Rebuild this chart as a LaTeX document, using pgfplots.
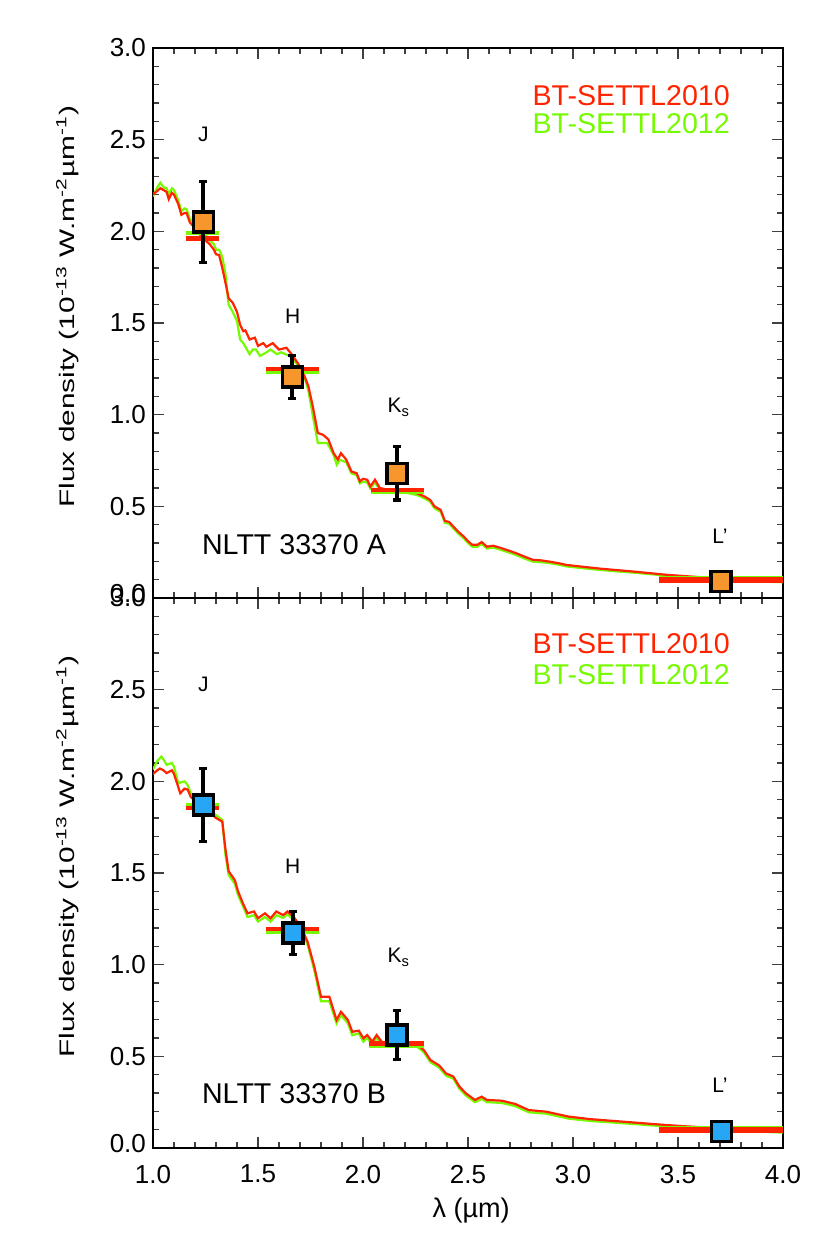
\documentclass[border=0pt]{standalone}
\usepackage{fontspec}
\setmainfont{Liberation Sans}
\usepackage{pgfplots}
\usepackage{pgfplotstable}
\pgfplotsset{compat=1.18}

\definecolor{setred}{RGB}{255,35,0}
\definecolor{setgreen}{RGB}{118,250,0}
\definecolor{ptorange}{RGB}{247,150,45}
\definecolor{ptblue}{RGB}{38,166,245}

% model spectra, panel A
\pgfplotstableread{
x y
1.00 2.20
1.02 2.22
1.035 2.235
1.05 2.225
1.065 2.215
1.075 2.175
1.09 2.21
1.10 2.20
1.12 2.15
1.135 2.09
1.15 2.10
1.16 2.10
1.175 2.05
1.19 2.03
1.21 2.00
1.25 1.95
1.27 1.93
1.29 1.90
1.30 1.875
1.315 1.87
1.33 1.80
1.345 1.72
1.36 1.635
1.38 1.61
1.40 1.56
1.415 1.49
1.43 1.455
1.44 1.46
1.46 1.41
1.485 1.42
1.50 1.375
1.525 1.39
1.54 1.37
1.57 1.39
1.60 1.355
1.635 1.365
1.66 1.33
1.69 1.28
1.71 1.24
1.725 1.20
1.74 1.155
1.76 1.05
1.785 0.90
1.81 0.89
1.835 0.865
1.86 0.79
1.88 0.755
1.895 0.79
1.92 0.755
1.945 0.69
1.97 0.68
1.985 0.636
2.00 0.65
2.02 0.645
2.035 0.608
2.057 0.645
2.08 0.60
2.12 0.59
2.16 0.585
2.20 0.585
2.225 0.58
2.26 0.57
2.29 0.555
2.32 0.535
2.34 0.50
2.37 0.48
2.39 0.42
2.41 0.415
2.43 0.39
2.455 0.36
2.48 0.335
2.50 0.31
2.52 0.29
2.545 0.29
2.565 0.305
2.59 0.28
2.62 0.285
2.65 0.275
2.69 0.26
2.73 0.244
2.77 0.225
2.81 0.208
2.85 0.205
2.89 0.198
2.93 0.19
2.97 0.18
3.05 0.17
3.13 0.16
3.21 0.152
3.29 0.144
3.37 0.135
3.45 0.126
3.55 0.118
3.65 0.11
3.75 0.103
3.85 0.097
3.95 0.092
4.00 0.09
}\redA

\pgfplotstableread{
x y
1.00 2.19
1.02 2.24
1.035 2.265
1.05 2.24
1.065 2.235
1.075 2.20
1.09 2.235
1.10 2.225
1.12 2.17
1.135 2.11
1.15 2.125
1.16 2.12
1.175 2.07
1.19 2.05
1.21 2.02
1.25 1.98
1.27 1.95
1.29 1.93
1.30 1.90
1.315 1.90
1.33 1.86
1.345 1.77
1.36 1.60
1.38 1.56
1.40 1.51
1.415 1.41
1.43 1.39
1.44 1.37
1.46 1.33
1.475 1.355
1.49 1.355
1.51 1.32
1.54 1.34
1.56 1.355
1.59 1.33
1.61 1.34
1.65 1.32
1.69 1.27
1.71 1.23
1.725 1.19
1.74 1.13
1.76 1.00
1.785 0.845
1.81 0.845
1.83 0.845
1.86 0.78
1.875 0.727
1.89 0.754
1.92 0.74
1.945 0.68
1.97 0.67
1.985 0.625
2.00 0.635
2.02 0.63
2.035 0.598
2.057 0.63
2.08 0.59
2.12 0.58
2.16 0.575
2.20 0.575
2.225 0.57
2.26 0.56
2.29 0.545
2.32 0.525
2.34 0.49
2.37 0.47
2.39 0.41
2.41 0.405
2.43 0.38
2.455 0.35
2.48 0.325
2.50 0.30
2.52 0.28
2.545 0.28
2.565 0.295
2.59 0.27
2.62 0.275
2.65 0.265
2.69 0.25
2.73 0.234
2.77 0.215
2.81 0.198
2.85 0.195
2.89 0.19
2.93 0.182
2.97 0.172
3.05 0.162
3.13 0.153
3.21 0.145
3.29 0.138
3.37 0.13
3.45 0.121
3.55 0.113
3.65 0.106
3.75 0.099
3.85 0.093
3.95 0.088
4.00 0.086
}\greenA

% model spectra, panel B
\pgfplotstableread{
x y
1.00 2.04
1.02 2.06
1.033 2.07
1.05 2.06
1.065 2.045
1.09 2.06
1.10 2.04
1.13 1.935
1.15 1.96
1.165 1.955
1.18 1.915
1.21 1.88
1.25 1.85
1.28 1.82
1.30 1.80
1.33 1.78
1.345 1.63
1.36 1.51
1.39 1.46
1.405 1.40
1.428 1.335
1.45 1.28
1.481 1.29
1.50 1.253
1.533 1.28
1.56 1.253
1.587 1.29
1.62 1.27
1.64 1.29
1.67 1.26
1.704 1.207
1.736 1.125
1.768 0.99
1.80 0.825
1.84 0.825
1.874 0.698
1.895 0.743
1.928 0.698
1.949 0.634
1.98 0.64
2.002 0.598
2.02 0.616
2.044 0.58
2.065 0.616
2.096 0.57
2.15 0.565
2.20 0.565
2.257 0.565
2.289 0.535
2.321 0.48
2.363 0.45
2.395 0.407
2.43 0.39
2.459 0.335
2.49 0.298
2.533 0.262
2.565 0.28
2.59 0.262
2.661 0.258
2.725 0.24
2.789 0.207
2.873 0.198
2.98 0.171
3.086 0.157
3.20 0.147
3.30 0.138
3.40 0.129
3.51 0.12
3.62 0.113
3.724 0.107
3.85 0.097
4.00 0.089
}\redB

\pgfplotstableread{
x y
1.00 2.065
1.02 2.11
1.04 2.135
1.055 2.11
1.065 2.09
1.09 2.10
1.10 2.08
1.12 1.99
1.15 2.00
1.165 1.98
1.18 1.935
1.21 1.90
1.25 1.87
1.28 1.835
1.30 1.815
1.33 1.79
1.345 1.60
1.36 1.49
1.39 1.44
1.405 1.38
1.428 1.32
1.45 1.26
1.481 1.27
1.50 1.235
1.533 1.26
1.56 1.235
1.587 1.27
1.62 1.255
1.64 1.275
1.67 1.245
1.704 1.19
1.736 1.11
1.768 0.97
1.80 0.80
1.84 0.80
1.874 0.68
1.895 0.725
1.928 0.68
1.949 0.615
1.98 0.625
2.002 0.58
2.02 0.60
2.044 0.565
2.065 0.60
2.096 0.555
2.15 0.553
2.20 0.553
2.257 0.553
2.289 0.523
2.321 0.468
2.363 0.438
2.395 0.395
2.43 0.378
2.459 0.323
2.49 0.286
2.533 0.25
2.565 0.268
2.59 0.25
2.661 0.246
2.725 0.228
2.789 0.195
2.873 0.187
2.98 0.16
3.086 0.147
3.20 0.138
3.30 0.13
3.40 0.121
3.51 0.113
3.62 0.106
3.724 0.1
3.85 0.091
4.00 0.084
}\greenB

% photometry: x, flux, error
\pgfplotstableread{
x y e
1.24 2.05 0.22
1.664 1.205 0.118
2.163 0.68 0.145
3.705 0.09 0
}\ptsA

\pgfplotstableread{
x y e
1.24 1.87 0.198
1.666 1.172 0.116
2.161 0.617 0.135
3.707 0.09 0
}\ptsB

\pgfplotsset{
  sedpanel/.style={
    scale only axis,
    width=315pt, height=275pt,
    xmin=1, xmax=4, ymin=0, ymax=3,
    xtick={1,1.5,2,2.5,3,3.5,4},
    ytick={0,0.5,1,1.5,2,2.5,3},
    yticklabels={\raisebox{5pt}{0.0},0.5,1.0,1.5,2.0,2.5,3.0},
    minor x tick num=4, minor y tick num=4,
    tick align=inside,
    major tick length=5.5pt, minor tick length=3pt,
    tick style={black!75, line width=0.6pt},
    axis line style={line width=0.6pt},
    tick label style={font=\fontsize{13}{15}\selectfont},
    xticklabel style={yshift=-5pt},
    every axis y label/.style={at={(axis description cs:-0.136,0.53)}, rotate=90, anchor=center},
    every axis x label/.style={at={(axis description cs:0.505,-0.113)}, anchor=center},
    ylabel style={font=\fontsize{10.5}{12}\selectfont},
    xlabel style={font=\fontsize{13.5}{15}\selectfont},
    ylabel={\scalebox{1.42}[1]{Flux density (10\textsuperscript{-13} W.m\textsuperscript{-2}µm\textsuperscript{-1})}},
  },
  specline/.style={line width=1.1pt, no marks},
  errs/.style={only marks, mark=none, forget plot,
    error bars/.cd, y dir=both, y explicit,
    error bar style={black, line width=2pt},
    error mark=-,
    error mark options={black, line width=1.6pt, mark size=2pt, rotate=90}},
}

\newcommand{\bandfont}{\fontsize{10.5}{12}\selectfont}
\newcommand{\bigfont}{\fontsize{14.3}{16}\selectfont}

\begin{document}
\begin{tikzpicture}
\useasboundingbox (-76.5pt,-49pt) rectangle (338.5pt,574pt);

% upper panel: component A
\begin{axis}[sedpanel, at={(0,275pt)}, anchor=south west, xticklabels={}]
\addplot[specline, setgreen] table[x=x,y=y]{\greenA};
\addplot[specline, setred] table[x=x,y=y]{\redA};
\addplot[setgreen, line width=2.2pt] coordinates {(1.157,1.99) (1.314,1.99)};
\addplot[setred, line width=2.2pt] coordinates {(1.157,1.96) (1.314,1.96)};
\addplot[setgreen, line width=2.2pt] coordinates {(1.54,1.235) (1.79,1.235)};
\addplot[setred, line width=2.2pt] coordinates {(1.54,1.25) (1.79,1.25)};
\addplot[setgreen, line width=2.2pt] coordinates {(2.04,0.58) (2.29,0.58)};
\addplot[setred, line width=2.2pt] coordinates {(2.04,0.59) (2.29,0.59)};
\addplot[setgreen, line width=2.6pt] coordinates {(3.41,0.105) (4.0,0.105)};
\addplot[setred, line width=3pt] coordinates {(3.41,0.097) (4.0,0.097)};
\addplot[errs] table[x=x,y=y,y error=e]{\ptsA};
\addplot[only marks, mark=square*, mark size=5pt,
  mark options={draw=black, fill=ptorange, line width=1.8pt}] table[x=x,y=y]{\ptsA};
\node[font=\bandfont] at (axis cs:1.24,2.53) {J};
\node[font=\bandfont] at (axis cs:1.665,1.535) {H};
\node[font=\bandfont] at (axis cs:2.17,1.04) {K\textsubscript{s}};
\node[font=\bandfont] at (axis cs:3.70,0.335) {L’};
\node[font=\bigfont, anchor=west] at (axis cs:1.20,0.29) {NLTT 33370 A};
\node[font=\bigfont, anchor=east, text=setred] at (axis cs:3.78,2.74) {BT-SETTL2010};
\node[font=\bigfont, anchor=east, text=setgreen] at (axis cs:3.78,2.585) {BT-SETTL2012};
\end{axis}

% lower panel: component B
\begin{axis}[sedpanel, at={(0,0)}, anchor=south west,
  xticklabels={1.0,1.5,2.0,2.5,3.0,3.5,4.0},
  xlabel={λ (µm)}]
\addplot[specline, setgreen] table[x=x,y=y]{\greenB};
\addplot[specline, setred] table[x=x,y=y]{\redB};
\addplot[setgreen, line width=2.2pt] coordinates {(1.157,1.87) (1.314,1.87)};
\addplot[setred, line width=2.2pt] coordinates {(1.157,1.853) (1.314,1.853)};
\addplot[setgreen, line width=2.2pt] coordinates {(1.54,1.18) (1.79,1.18)};
\addplot[setred, line width=2.2pt] coordinates {(1.54,1.193) (1.79,1.193)};
\addplot[setgreen, line width=2.2pt] coordinates {(2.03,0.56) (2.29,0.56)};
\addplot[setred, line width=2.2pt] coordinates {(2.03,0.571) (2.29,0.571)};
\addplot[setgreen, line width=2.6pt] coordinates {(3.41,0.105) (4.0,0.105)};
\addplot[setred, line width=3pt] coordinates {(3.41,0.097) (4.0,0.097)};
\addplot[errs] table[x=x,y=y,y error=e]{\ptsB};
\addplot[only marks, mark=square*, mark size=5pt,
  mark options={draw=black, fill=ptblue, line width=1.8pt}] table[x=x,y=y]{\ptsB};
\node[font=\bandfont] at (axis cs:1.24,2.53) {J};
\node[font=\bandfont] at (axis cs:1.665,1.535) {H};
\node[font=\bandfont] at (axis cs:2.17,1.04) {K\textsubscript{s}};
\node[font=\bandfont] at (axis cs:3.70,0.34) {L’};
\node[font=\bigfont, anchor=west] at (axis cs:1.20,0.298) {NLTT 33370 B};
\node[font=\bigfont, anchor=east, text=setred] at (axis cs:3.78,2.75) {BT-SETTL2010};
\node[font=\bigfont, anchor=east, text=setgreen] at (axis cs:3.78,2.58) {BT-SETTL2012};
\end{axis}
\end{tikzpicture}
\end{document}
